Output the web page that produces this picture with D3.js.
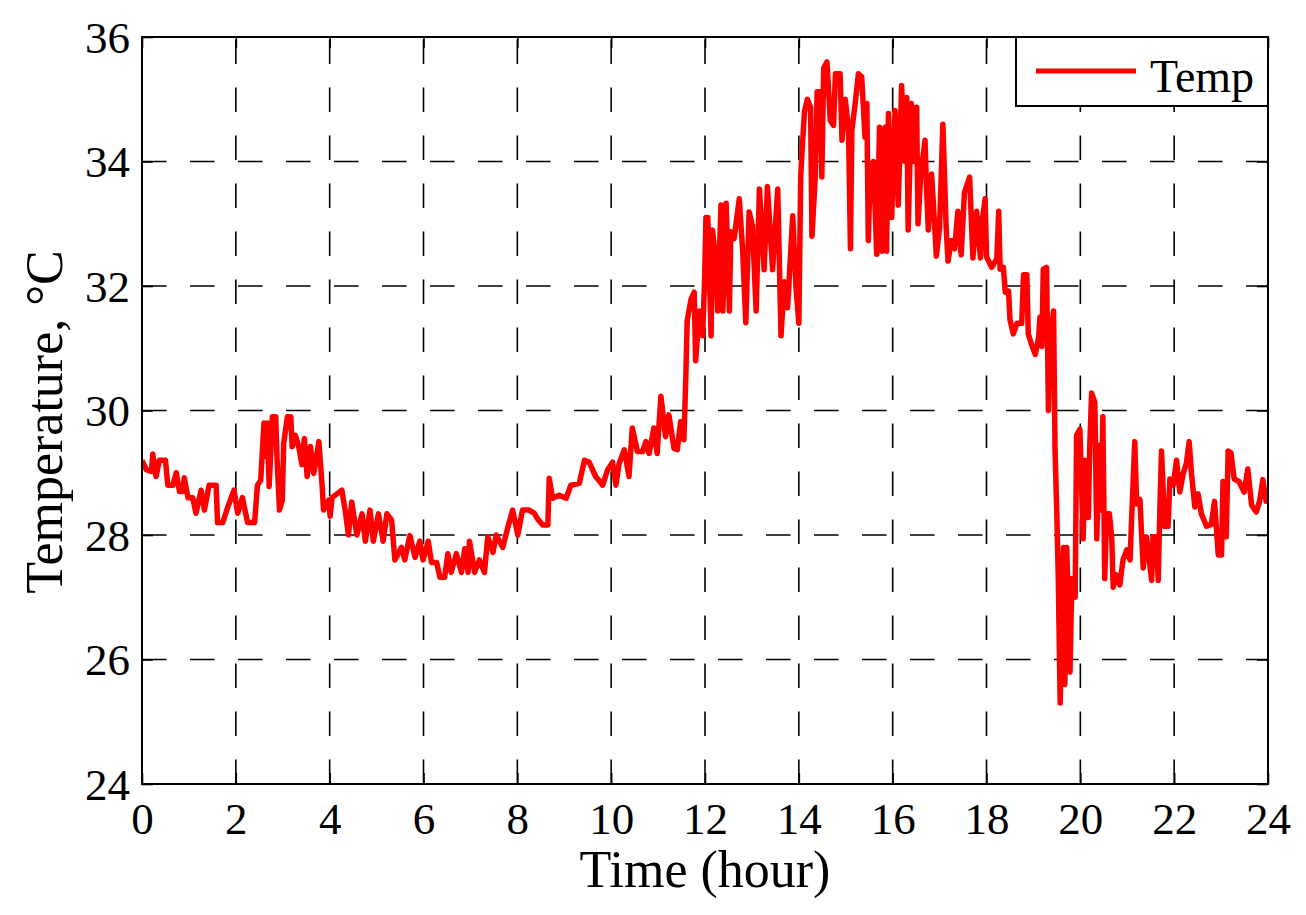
<!DOCTYPE html>
<html>
<head>
<meta charset="utf-8">
<script src="https://cdn.jsdelivr.net/npm/d3@7/dist/d3.min.js"></script>
<style>
  html, body { margin: 0; padding: 0; background: #fff; }
  svg { display: block; }
  text { font-family: "Liberation Serif", "Times New Roman", serif; fill: #000; }
</style>
</head>
<body>
<svg id="chart" width="1306" height="915"></svg>
<script>
// ---- data ----
const hours = [
  0.00,0.09,0.20,0.23,0.30,0.37,0.50,0.55,0.66,0.73,0.80,0.87,0.90,0.98,1.08,1.15,1.26,1.33,1.43,1.58,
  1.61,1.72,1.82,1.96,2.04,2.14,2.25,2.40,2.46,2.53,2.60,2.64,2.67,2.71,2.78,2.85,2.88,2.93,2.99,3.02,
  3.10,3.17,3.20,3.27,3.34,3.41,3.46,3.52,3.59,3.66,3.77,3.84,3.87,3.98,4.01,4.05,4.26,4.33,4.40,4.47,
  4.58,4.69,4.76,4.86,4.93,5.04,5.14,5.22,5.32,5.39,5.53,5.60,5.71,5.82,5.92,5.99,6.10,6.17,6.28,6.35,
  6.45,6.52,6.59,6.70,6.81,6.88,6.95,6.98,7.09,7.19,7.30,7.37,7.48,7.55,7.69,7.80,7.90,8.01,8.11,8.25,
  8.36,8.43,8.54,8.65,8.68,8.75,8.89,9.04,9.14,9.32,9.43,9.53,9.67,9.82,9.92,10.03,10.10,10.17,10.28,10.38,
  10.45,10.56,10.67,10.74,10.81,10.91,10.98,11.06,11.16,11.23,11.34,11.41,11.48,11.55,11.59,11.62,11.70,11.77,11.80,11.88,
  11.95,11.99,12.02,12.06,12.13,12.16,12.23,12.27,12.34,12.38,12.45,12.52,12.55,12.62,12.73,12.80,12.87,12.94,13.01,13.09,
  13.16,13.26,13.33,13.44,13.55,13.62,13.69,13.76,13.87,13.94,14.00,14.04,14.07,14.12,14.18,14.25,14.28,14.35,14.39,14.46,
  14.49,14.53,14.60,14.67,14.74,14.78,14.88,14.92,14.99,15.06,15.10,15.13,15.20,15.27,15.34,15.41,15.45,15.48,15.52,15.59,
  15.66,15.72,15.77,15.84,15.87,15.91,15.98,16.05,16.12,16.19,16.26,16.30,16.33,16.40,16.47,16.51,16.54,16.60,16.69,16.72,
  16.76,16.83,16.90,16.93,17.00,17.07,17.14,17.18,17.25,17.32,17.39,17.46,17.53,17.64,17.71,17.79,17.87,17.90,17.97,18.00,
  18.11,18.22,18.26,18.29,18.36,18.40,18.47,18.50,18.57,18.65,18.75,18.79,18.86,18.89,18.96,19.04,19.11,19.14,19.18,19.21,
  19.28,19.32,19.35,19.43,19.46,19.50,19.53,19.57,19.64,19.67,19.71,19.78,19.82,19.89,19.92,19.99,20.06,20.10,20.17,20.20,
  20.24,20.31,20.35,20.41,20.45,20.48,20.52,20.56,20.62,20.67,20.70,20.77,20.84,20.91,20.99,21.06,21.09,21.16,21.20,21.27,
  21.34,21.41,21.48,21.52,21.55,21.62,21.66,21.70,21.73,21.80,21.87,21.91,21.98,22.05,22.12,22.19,22.26,22.32,22.37,22.44,
  22.51,22.58,22.69,22.79,22.86,22.94,23.01,23.04,23.11,23.15,23.21,23.28,23.38,23.49,23.57,23.65,23.75,23.82,23.89,23.96,
  24.00
];
const temps = [
  29.20,29.05,29.02,29.30,28.94,29.20,29.20,28.80,28.80,29.00,28.70,28.70,28.92,28.60,28.60,28.35,28.72,28.40,28.80,28.80,
  28.20,28.20,28.43,28.72,28.35,28.60,28.20,28.20,28.80,28.88,29.80,29.26,29.80,28.78,29.90,29.90,29.20,28.40,28.56,29.47,
  29.90,29.90,29.42,29.60,29.42,29.13,29.55,28.94,29.42,28.99,29.50,28.78,28.40,28.56,28.30,28.60,28.72,28.40,28.00,28.53,
  28.00,28.34,27.90,28.40,27.90,28.34,27.90,28.34,28.24,27.60,27.80,27.60,27.99,27.64,27.90,27.60,27.90,27.56,27.56,27.32,
  27.32,27.70,27.40,27.70,27.40,27.78,27.40,27.90,27.40,27.60,27.40,27.97,27.72,28.00,27.80,28.13,28.40,28.00,28.40,28.40,
  28.35,28.26,28.16,28.16,28.91,28.59,28.64,28.59,28.80,28.83,29.20,29.17,28.94,28.80,29.04,29.17,28.80,29.15,29.37,28.94,
  29.72,29.34,29.34,29.50,29.31,29.72,29.31,30.23,29.58,29.93,29.39,29.37,29.82,29.53,30.50,31.44,31.78,31.90,30.80,31.60,
  31.20,32.07,33.10,33.10,31.20,32.90,32.40,31.60,33.30,31.60,33.33,31.60,32.87,32.76,33.40,32.60,31.41,33.19,32.97,31.60,
  33.56,32.26,33.60,32.26,33.56,31.20,32.07,31.65,33.13,31.97,31.40,33.75,34.18,34.80,35.00,34.87,32.80,33.75,35.12,35.12,
  33.75,35.50,35.60,34.66,34.58,35.41,35.41,34.34,35.00,34.50,32.60,34.50,34.93,35.41,35.36,34.39,34.93,32.73,33.80,34.00,
  32.51,34.55,32.56,34.55,32.56,34.77,33.10,34.82,33.30,35.22,34.00,35.03,32.90,34.93,34.00,34.87,33.00,33.80,34.34,33.60,
  32.90,33.80,32.90,32.48,32.94,34.60,32.94,32.40,32.73,32.60,33.20,32.50,33.50,33.75,32.45,33.20,32.45,33.00,33.40,32.47,
  32.30,32.44,33.20,32.27,32.30,31.90,31.92,31.46,31.23,31.40,31.40,32.18,32.18,31.23,31.06,30.90,31.17,31.50,31.03,32.27,
  32.30,30.00,31.10,31.60,29.40,28.30,27.30,25.30,27.80,25.60,27.80,25.80,27.30,27.00,29.60,29.70,27.94,29.20,28.28,29.40,
  30.28,30.13,27.94,29.44,28.40,29.90,27.30,28.34,28.34,27.94,27.16,27.36,27.20,27.60,27.76,27.60,28.20,29.50,28.50,28.57,
  27.47,27.97,27.53,27.27,27.97,27.97,27.27,28.57,29.35,28.14,28.14,28.90,28.80,29.20,28.69,28.98,29.15,29.50,28.98,28.45,
  28.66,28.34,28.14,28.17,28.54,27.68,27.68,28.86,27.97,29.35,29.32,28.90,28.86,28.69,29.06,28.48,28.37,28.54,28.89,28.54,
  28.57
];
const xTicks = [0,2,4,6,8,10,12,14,16,18,20,22,24];
const yTicks = [24,26,28,30,32,34,36];
const seriesName = "Temp";
const xTitle = "Time (hour)";
const yTitle = "Temperature, \u00B0C";

// ---- layout ----
const svg = d3.select("#chart");
const L = 142, R = 1268, T = 37, B = 784;
const x = d3.scaleLinear().domain([0, 24]).range([L, R]);
const y = d3.scaleLinear().domain([24, 36]).range([B, T]);

const data = hours.map((h, i) => ({h, t: temps[i]}));

// grid lines (dashed)
const grid = svg.append("g");
xTicks.slice(1, -1).forEach(v => {
  grid.append("line")
    .attr("x1", x(v)).attr("x2", x(v)).attr("y1", B).attr("y2", T)
    .attr("stroke", "#000").attr("stroke-width", 1.6)
    .attr("stroke-dasharray", "24.5,23.5");
});
yTicks.slice(1, -1).forEach(v => {
  grid.append("line")
    .attr("x1", L).attr("x2", R).attr("y1", y(v)).attr("y2", y(v))
    .attr("stroke", "#000").attr("stroke-width", 1.6)
    .attr("stroke-dasharray", "24.5,23.5");
});

// axes with inward ticks
const tickLen = 11;
const xAxisB = d3.axisBottom(x).tickValues(xTicks).tickSize(-tickLen).tickPadding(18).tickFormat(d3.format("d"));
const xAxisT = d3.axisTop(x).tickValues(xTicks).tickSize(-tickLen).tickFormat("");
const yAxisL = d3.axisLeft(y).tickValues(yTicks).tickSize(-tickLen).tickPadding(12).tickFormat(d3.format("d"));
const yAxisR = d3.axisRight(y).tickValues(yTicks).tickSize(-tickLen).tickFormat("");

function styleAxis(g) {
  g.select(".domain").remove();
  g.selectAll(".tick line").attr("stroke", "#000").attr("stroke-width", 1.6);
  g.selectAll("text").style("font-family", '"Liberation Serif", "Times New Roman", serif')
    .style("font-size", "45px").attr("fill", "#000");
}
svg.append("g").attr("transform", `translate(0,${B})`).call(xAxisB).call(styleAxis)
  .selectAll("text").attr("dy", "0.71em");
svg.append("g").attr("transform", `translate(0,${T})`).call(xAxisT).call(styleAxis);
svg.append("g").attr("transform", `translate(${L},0)`).call(yAxisL).call(styleAxis)
  .selectAll("text").attr("dy", "0.34em");
svg.append("g").attr("transform", `translate(${R},0)`).call(yAxisR).call(styleAxis);

// clip path
svg.append("defs").append("clipPath").attr("id", "clip")
  .append("rect").attr("x", L).attr("y", T).attr("width", R - L).attr("height", B - T);

// data line
const line = d3.line().x(d => x(d.h)).y(d => y(d.t));
svg.append("path").datum(data)
  .attr("clip-path", "url(#clip)")
  .attr("d", line)
  .attr("fill", "none")
  .attr("stroke", "#ff0000")
  .attr("stroke-width", 5.5)
  .attr("stroke-linejoin", "round");

// axes box
svg.append("rect").attr("x", L).attr("y", T).attr("width", R - L).attr("height", B - T)
  .attr("fill", "none").attr("stroke", "#000").attr("stroke-width", 2);

// axis titles
svg.append("text").attr("x", (L + R) / 2).attr("y", 887)
  .attr("text-anchor", "middle").style("font-size", "52px").text(xTitle);
svg.append("text").attr("transform", `translate(62,422) rotate(-90)`)
  .attr("text-anchor", "middle").style("font-size", "52px").text(yTitle);

// legend
const lg = svg.append("g");
lg.append("rect").attr("x", 1016).attr("y", T).attr("width", R - 1016).attr("height", 69)
  .attr("fill", "#fff").attr("stroke", "#000").attr("stroke-width", 2);
lg.append("line").attr("x1", 1036).attr("x2", 1136).attr("y1", 71).attr("y2", 71)
  .attr("stroke", "#ff0000").attr("stroke-width", 5);
lg.append("text").attr("x", 1150).attr("y", 92).style("font-size", "46px").text(seriesName);
</script>
</body>
</html>
